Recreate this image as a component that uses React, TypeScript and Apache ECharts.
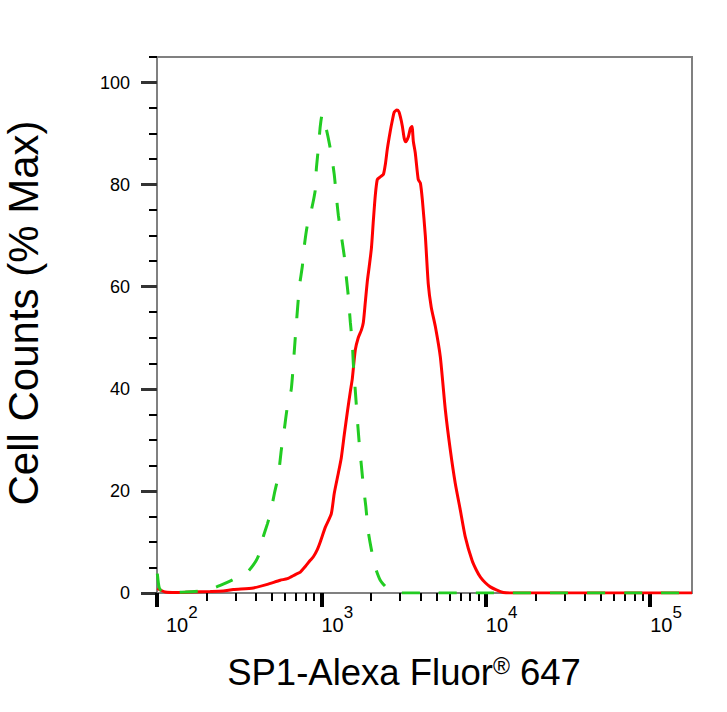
import React, { useEffect, useRef } from "react";
import * as echarts from "echarts";

// x is stored in decades (log10 of the fluorescence intensity)
const xMinDecade = 2;
const xMaxDecade = 5.254;
const yMin = 0;
const yMax = 105;

const decadeTicks = [2, 3, 4, 5];
const minorDecadeTicks: number[] = [];
for (const d of [2, 3, 4, 5]) {
  for (let m = 2; m <= 9; m++) {
    const v = d + Math.log10(m);
    if (v < xMaxDecade) minorDecadeTicks.push(v);
  }
}
const yMajorTicks = [0, 20, 40, 60, 80, 100];
const yMinorTicks = [5, 10, 15, 25, 30, 35, 45, 50, 55, 65, 70, 75, 85, 90, 95, 105];

// SP1 stained sample (solid red)
const redDecades = [
  2.002, 2.02, 2.05, 2.111, 2.203, 2.324, 2.403, 2.464, 2.586, 2.671, 2.75, 2.793,
  2.841, 2.872, 2.902, 2.932, 2.951, 2.975, 2.993, 3.024, 3.06, 3.078, 3.103, 3.121,
  3.139, 3.158, 3.176, 3.188, 3.206, 3.224, 3.243, 3.255, 3.267, 3.279, 3.291, 3.304,
  3.316, 3.328, 3.34, 3.358, 3.377, 3.389, 3.401, 3.419, 3.431, 3.443, 3.459, 3.471,
  3.48, 3.492, 3.504, 3.513, 3.529, 3.541, 3.551, 3.559, 3.571, 3.589, 3.602, 3.614,
  3.632, 3.65, 3.668, 3.693, 3.723, 3.754, 3.784, 3.814, 3.845, 3.875, 3.916, 3.942,
  3.967, 3.997, 4.027, 4.064, 4.106, 4.149, 5.254,
];
const redCounts = [
  0.9, 0.6, 0.2, 0.1, 0.2, 0.3, 0.4, 0.7, 1.0, 1.7, 2.5, 2.8,
  3.6, 4.1, 5.2, 6.4, 7.1, 8.5, 10, 12.9, 15.5, 19.5, 23.5, 26.5,
  31, 35.5, 39.5, 42, 47.6, 50, 51.5, 53, 57, 61, 64, 67.5,
  73, 78, 81, 81.5, 82, 84, 87, 90.5, 92.5, 94.2, 94.6, 94.3,
  93.3, 91.5, 89, 88.4, 89.4, 91, 91.4, 88.5, 86.2, 81, 80.3, 77,
  70, 60.5, 56, 52.2, 46.3, 35.8, 28, 21.5, 16.2, 11, 6.4, 4.5,
  3.1, 2.0, 1.2, 0.6, 0.1, 0, 0,
];

// isotype control (dashed green)
const greenDecades = [
  2.002, 2.014, 2.038, 2.172, 2.263, 2.336, 2.385, 2.434, 2.488, 2.549, 2.586, 2.616,
  2.646, 2.671, 2.689, 2.714, 2.738, 2.756, 2.774, 2.793, 2.817, 2.841, 2.866, 2.884,
  2.896, 2.914, 2.939, 2.963, 2.969, 2.981, 2.993, 3.005, 3.036, 3.06, 3.078, 3.09,
  3.103, 3.121, 3.139, 3.151, 3.164, 3.176, 3.188, 3.194, 3.203, 3.212, 3.221, 3.231,
  3.243, 3.255, 3.27, 3.285, 3.304, 3.328, 3.358, 3.395, 3.431, 3.48, 5.254,
];
const greenCounts = [
  3.8, 1, 0.1, 0.2, 0.4, 0.9, 1.5, 2.2, 3, 4.1, 5.5, 7.2,
  11, 13.5, 15.5, 19.5, 23, 28, 32, 36.5, 40, 50, 60, 64,
  68, 72, 75, 79, 83, 87, 91.4, 93.8, 90, 86, 82, 78,
  74, 70, 66, 62, 58, 53, 49, 45, 41, 37, 33, 29,
  25, 21, 17, 12, 8.5, 5, 2.5, 1.1, 0.3, 0, 0,
];

const font = '"Liberation Sans", Arial, sans-serif';

const App = () => {
  const chartContainer = useRef<HTMLDivElement>(null);

  useEffect(() => {
    if (!chartContainer.current) return;
    const chart = echarts.init(chartContainer.current, null, { renderer: "svg" });

    const option: echarts.EChartsOption = {
      animation: false,
      grid: {
        left: 157,
        right: 35,
        top: 57,
        bottom: 119,
        show: true,
        borderColor: "#808080",
        borderWidth: 2,
        backgroundColor: "transparent",
      },
      xAxis: [
        {
          type: "value",
          position: "bottom",
          min: xMinDecade,
          max: xMaxDecade,
          axisLine: { show: true, lineStyle: { color: "#808080", width: 2 } },
          axisTick: {
            show: true,
            customValues: decadeTicks,
            length: 14,
            lineStyle: { color: "#000", width: 4 },
          },
          axisLabel: {
            show: true,
            customValues: decadeTicks,
            align: "left",
            margin: 20,
            formatter: (v: number) => (v === 2 ? `{f|10}{s|${v}}` : `{b|10}{s|${v}}`),
            rich: {
              b: { fontSize: 20, lineHeight: 22, fontFamily: font, color: "#000", verticalAlign: "bottom" },
              f: { fontSize: 20, lineHeight: 22, fontFamily: font, color: "#000", verticalAlign: "bottom", padding: [0, 0, 0, 9] },
              s: { fontSize: 17, lineHeight: 17, fontFamily: font, color: "#000", verticalAlign: "bottom", padding: [0, 0, 14, 0] },
            },
          },
          splitLine: { show: false },
        },
        {
          type: "value",
          position: "bottom",
          min: xMinDecade,
          max: xMaxDecade,
          axisLine: { show: false },
          axisTick: {
            show: true,
            customValues: minorDecadeTicks,
            length: 8,
            lineStyle: { color: "#000", width: 2 },
          },
          axisLabel: { show: false },
          splitLine: { show: false },
        },
      ],
      yAxis: [
        {
          type: "value",
          position: "left",
          min: yMin,
          max: yMax,
          axisLine: { show: true, lineStyle: { color: "#808080", width: 2 } },
          axisTick: {
            show: true,
            customValues: yMajorTicks,
            length: 16,
            lineStyle: { color: "#333", width: 3 },
          },
          axisLabel: {
            show: true,
            customValues: yMajorTicks,
            margin: 27,
            fontSize: 18,
            fontFamily: font,
            color: "#000",
          },
          splitLine: { show: false },
        },
        {
          type: "value",
          position: "left",
          min: yMin,
          max: yMax,
          axisLine: { show: false },
          axisTick: {
            show: true,
            customValues: yMinorTicks,
            length: 8,
            lineStyle: { color: "#000", width: 2 },
          },
          axisLabel: { show: false },
          splitLine: { show: false },
        },
      ],
      series: [
        {
          name: "SP1",
          type: "line",
          showSymbol: false,
          smooth: 0.2,
          data: redDecades.map((d, i) => [d, redCounts[i]]),
          lineStyle: { color: "#ff0000", width: 3 },
          itemStyle: { color: "#ff0000" },
          z: 3,
        },
        {
          name: "Isotype",
          type: "line",
          showSymbol: false,
          smooth: 0.2,
          data: greenDecades.map((d, i) => [d, greenCounts[i]]),
          lineStyle: { color: "#22cc22", width: 3, type: [18, 19] },
          itemStyle: { color: "#22cc22" },
          z: 4,
        },
      ],
      graphic: [
        {
          type: "text",
          x: 23,
          y: 313,
          rotation: Math.PI / 2,
          style: {
            text: "Cell Counts (% Max)",
            fontSize: 42,
            fontFamily: font,
            fill: "#000",
            align: "center",
            verticalAlign: "middle",
          },
        },
        {
          type: "text",
          x: 404,
          y: 672,
          style: {
            text: "{m|SP1-Alexa Fluor}{r|®}{m| 647}",
            align: "center",
            verticalAlign: "middle",
            rich: {
              m: { fontSize: 36.5, lineHeight: 36, fontFamily: font, fill: "#000", verticalAlign: "top" },
              r: { fontSize: 23, lineHeight: 23, fontFamily: font, fill: "#000", verticalAlign: "top" },
            },
          },
        },
      ],
    };

    chart.setOption(option);

    return () => {
      chart.dispose();
    };
  }, []);

  return (
    <div
      ref={chartContainer}
      style={{ position: "absolute", left: 0, top: 0, width: 727, height: 712 }}
    />
  );
};

export default App;
